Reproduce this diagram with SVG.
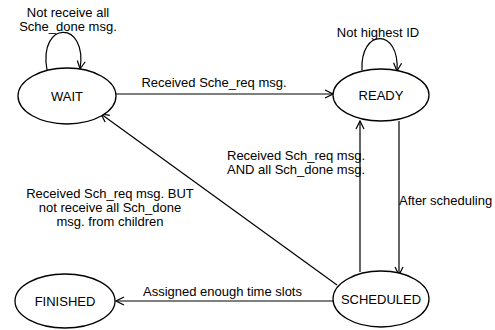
<svg xmlns="http://www.w3.org/2000/svg" width="495" height="330" viewBox="0 0 495 330">
<style>
.n{fill:#fff;stroke:#000;stroke-width:1.3}
.e{fill:none;stroke:#000;stroke-width:1.2}
text{font-family:"Liberation Sans",Arial,sans-serif;font-size:13px;fill:#000}
.c{text-anchor:middle}
</style>
<defs>
<marker id="a" markerWidth="10" markerHeight="10" refX="9" refY="5" orient="auto" markerUnits="userSpaceOnUse">
<path d="M1,1 L9,5 L1,9" fill="none" stroke="#000" stroke-width="1.2"/>
</marker>
</defs>
<g id="edges">
<path class="e" d="M47,70 C38,20 88,20 80,69" marker-end="url(#a)"/>
<path class="e" d="M362,70 C360,28 400,28 397,71" marker-end="url(#a)"/>
<path class="e" d="M115,94 L333,94" marker-end="url(#a)"/>
<path class="e" d="M360,272 L360,121" marker-end="url(#a)"/>
<path class="e" d="M399,121 L399,275" marker-end="url(#a)"/>
<path class="e" d="M337,285 L101,114" marker-end="url(#a)"/>
<path class="e" d="M333,301 L116,301" marker-end="url(#a)"/>
</g>
<g id="WAIT"><ellipse class="n" cx="67" cy="96" rx="49" ry="28"/><text class="c" x="67" y="101">WAIT</text></g>
<g id="READY"><ellipse class="n" cx="381" cy="95" rx="48" ry="26"/><text class="c" x="381" y="100">READY</text></g>
<g id="SCHEDULED"><ellipse class="n" cx="381" cy="299" rx="48" ry="28"/><text class="c" x="381" y="304">SCHEDULED</text></g>
<g id="FINISHED"><ellipse class="n" cx="65" cy="301" rx="50" ry="27"/><text class="c" x="65" y="306">FINISHED</text></g>
<g id="labels">
<text class="c" x="68" y="17">Not receive all</text>
<text class="c" x="68" y="31">Sche_done msg.</text>
<text class="c" x="378" y="37">Not highest ID</text>
<text class="c" x="214" y="87">Received Sche_req msg.</text>
<text x="227" y="160">Received Sch_req msg.</text>
<text x="227" y="174">AND all Sch_done msg.</text>
<text x="399" y="205">After scheduling</text>
<text class="c" x="110" y="198">Received Sch_req msg. BUT</text>
<text class="c" x="110" y="212">not receive all Sch_done</text>
<text class="c" x="110" y="226">msg. from children</text>
<text x="143" y="296">Assigned enough time slots</text>
</g>
</svg>
